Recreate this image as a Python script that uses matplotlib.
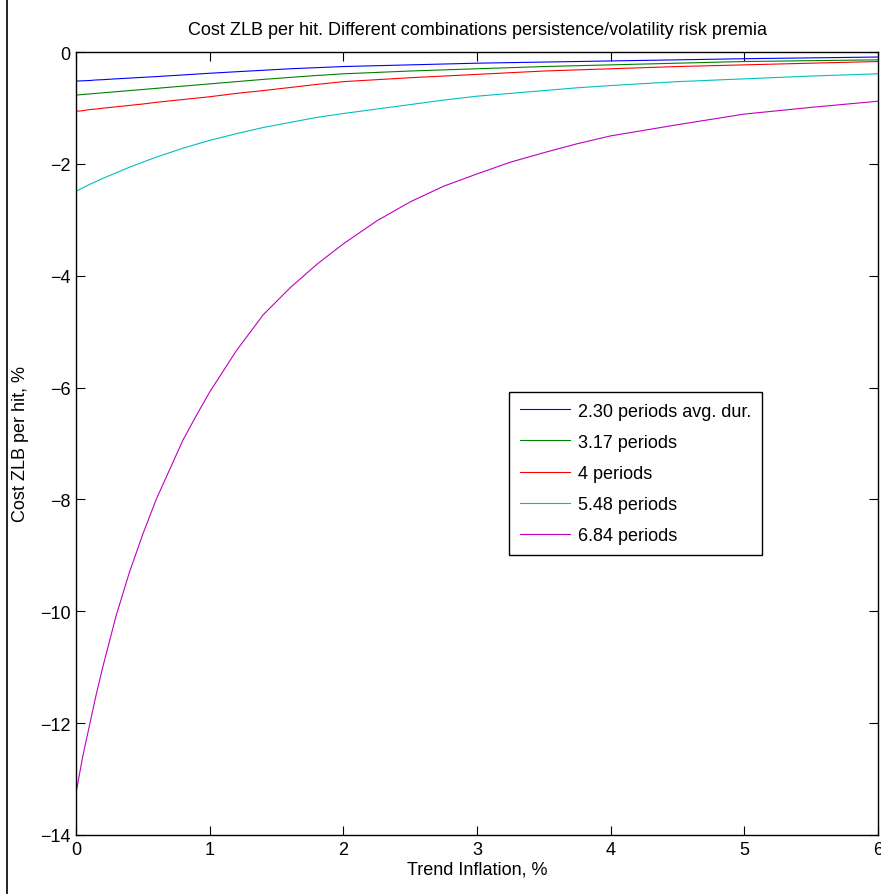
import matplotlib
matplotlib.use('Agg')
import matplotlib.pyplot as plt
from matplotlib.lines import Line2D

plt.rcParams['font.family'] = ['Liberation Sans', 'DejaVu Sans']
fs = 13

# Trend inflation grid (%)
trend_infl = [0, 0.05, 0.1, 0.15, 0.2, 0.3, 0.4, 0.5, 0.6, 0.7, 0.8, 0.9, 1.0, 1.2, 1.4, 1.6, 1.8,
              2.0, 2.25, 2.5, 2.75, 3.0, 3.25, 3.5, 3.75, 4.0, 4.5, 5.0, 5.5, 6.0]

# Cost ZLB per hit (%) for each persistence/volatility combination
cost_230 = [-0.52, -0.515, -0.51, -0.50, -0.495, -0.48, -0.467, -0.453, -0.44, -0.425, -0.41, -0.395, -0.38,
            -0.353, -0.327, -0.30, -0.28, -0.26, -0.245, -0.23, -0.215, -0.20, -0.19, -0.18, -0.17, -0.16,
            -0.14, -0.12, -0.105, -0.09]
cost_317 = [-0.77, -0.76, -0.75, -0.74, -0.73, -0.71, -0.69, -0.67, -0.65, -0.63, -0.61, -0.59, -0.57,
            -0.53, -0.49, -0.455, -0.42, -0.39, -0.365, -0.34, -0.32, -0.30, -0.28, -0.26, -0.245, -0.23,
            -0.20, -0.17, -0.155, -0.14]
cost_4 = [-1.06, -1.05, -1.03, -1.02, -1.005, -0.98, -0.955, -0.93, -0.90, -0.875, -0.85, -0.825, -0.80,
          -0.74, -0.69, -0.635, -0.58, -0.53, -0.495, -0.46, -0.43, -0.40, -0.37, -0.34, -0.32, -0.30,
          -0.26, -0.23, -0.20, -0.17]
cost_548 = [-2.49, -2.43, -2.37, -2.315, -2.26, -2.16, -2.06, -1.97, -1.88, -1.80, -1.72, -1.65, -1.58,
            -1.46, -1.35, -1.26, -1.17, -1.10, -1.02, -0.94, -0.86, -0.79, -0.74, -0.69, -0.64, -0.60,
            -0.53, -0.48, -0.43, -0.39]
cost_684 = [-13.25, -12.6, -12.05, -11.5, -11.0, -10.08, -9.3, -8.62, -8.0, -7.47, -6.94, -6.50, -6.08,
            -5.34, -4.70, -4.22, -3.80, -3.43, -3.02, -2.68, -2.40, -2.18, -1.97, -1.80, -1.64, -1.50,
            -1.30, -1.11, -0.99, -0.88]

labels = ['2.30 periods avg. dur.', '3.17 periods', '4 periods', '5.48 periods', '6.84 periods']
colors = [(0, 0, 1), (0, 0.5, 0), (1, 0, 0), (0, 0.75, 0.75), (0.75, 0, 0.75)]

fig = plt.figure(figsize=(8.81, 8.95), dpi=100)
ax = fig.add_axes([76/881, 1-836/895, 802/881, 783/895])

for series, lab, col in zip([cost_230, cost_317, cost_4, cost_548, cost_684], labels, colors):
    ax.plot(trend_infl, series, color=col, linewidth=0.8, label=lab)

ax.set_xlim(0, 6)
ax.set_ylim(-14, 0)
ax.set_xticks(range(0, 7))
ax.set_yticks(range(-14, 1, 2))
ax.set_yticklabels(['\u2212' + str(-v) if v < 0 else str(v) for v in range(-14, 1, 2)])
ax.tick_params(direction='in', top=True, right=True, length=6.5, width=0.8,
               labelsize=fs, pad=4)
for sp in ax.spines.values():
    sp.set_linewidth(1.0)

ax.set_title('Cost ZLB per hit. Different combinations persistence/volatility risk premia',
             fontsize=fs, pad=13)
ax.set_xlabel('Trend Inflation, %', fontsize=fs, labelpad=2)
ax.set_ylabel('Cost ZLB per hit, %', fontsize=fs, labelpad=8)

leg = ax.legend(loc='upper left', bbox_to_anchor=(0.540, 0.566), fontsize=fs,
                frameon=True, fancybox=False, edgecolor='black', framealpha=1,
                handlelength=2.8, handletextpad=0.4, labelspacing=0.78,
                borderpad=0.6, borderaxespad=0)
leg.get_frame().set_linewidth(1.0)

# stray vertical rule at the left edge of the figure
fig.add_artist(Line2D([7/881, 7/881], [0, 1], color='black', linewidth=1.2))

fig.savefig('out.png', dpi=100)
